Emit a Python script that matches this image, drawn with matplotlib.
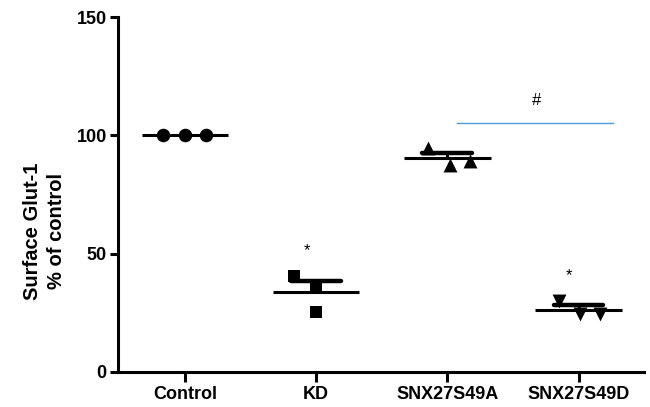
import numpy as np
import matplotlib
matplotlib.use("Agg")
import matplotlib.pyplot as plt

plt.rcParams['font.family'] = ['Liberation Sans', 'DejaVu Sans']
plt.rcParams['font.weight'] = 'bold'

categories = ["Control", "KD", "SNX27S49A", "SNX27S49D"]
control = [100, 100, 100]
kd = [40.6, 36.0, 25.2]
s49a = [94.8, 87.4, 89.1]
s49d = [30.1, 24.5, 24.5]
series = [control, kd, s49a, s49d]
y_ticks = [0, 50, 100, 150]
stars = [("*", 1, 51.3), ("*", 3, 40.6)]
hash_label = "#"
hash_bar_y = 105.4
hash_text_y = 114.6

# layout (horizontal spread of points within each group)
offsets = [[-0.17, 0.0, 0.16], [-0.17, 0.0, 0.0], [-0.15, 0.02, 0.17], [-0.15, 0.01, 0.16]]
markers = ["o", "s", "^", "v"]
msizes = [95, 85, 100, 100]

fig = plt.figure(figsize=(6.5, 4.07), dpi=100)
ax = fig.add_axes([0.1815, 0.086, 0.8095, 0.872])

for i, (vals, offs, m, ms) in enumerate(zip(series, offsets, markers, msizes)):
    xs = [i + o for o in offs]
    ax.scatter(xs, vals, marker=m, s=ms, color="black", zorder=3, linewidths=0)
    mean = np.mean(vals)
    sem = np.std(vals, ddof=1) / np.sqrt(len(vals))
    ax.plot([i - 0.33, i + 0.33], [mean, mean], color="black", lw=2.2, zorder=2, solid_capstyle="butt")
    if sem > 0.2:
        ax.plot([i, i], [mean, mean + sem], color="black", lw=2.2, zorder=2)
        ax.plot([i - 0.19, i + 0.19], [mean + sem, mean + sem], color="black", lw=3.2, zorder=2,
                solid_capstyle="round")

for txt, xi, yv in stars:
    ax.text(xi - 0.07, yv, txt, ha="center", va="center", fontsize=12, fontweight="normal")

ax.plot([2.07, 3.26], [hash_bar_y, hash_bar_y], color="#4a9de0", lw=1.0)
ax.text(2.68, hash_text_y, hash_label, ha="center", va="center", fontsize=12, fontweight="normal")

ax.set_xlim(-0.51, 3.5)
ax.set_ylim(0, 150)
ax.set_xticks(range(len(categories)))
ax.set_xticklabels(categories, fontsize=13, fontweight="bold")
ax.set_yticks(y_ticks)
ax.set_yticklabels([str(t) for t in y_ticks], fontsize=13, fontweight="bold")
ax.set_ylabel("Surface Glut-1\n% of control", fontsize=14.5, fontweight="bold", labelpad=6,
              linespacing=1.35)
ax.yaxis.set_label_coords(-0.099, 0.397)

for s in ["top", "right"]:
    ax.spines[s].set_visible(False)
for s in ["left", "bottom"]:
    ax.spines[s].set_linewidth(2.2)
ax.tick_params(axis="y", length=6, width=2.2, pad=2)
ax.tick_params(axis="x", length=7, width=2.2, pad=3)

fig.savefig("out.png", dpi=100)
